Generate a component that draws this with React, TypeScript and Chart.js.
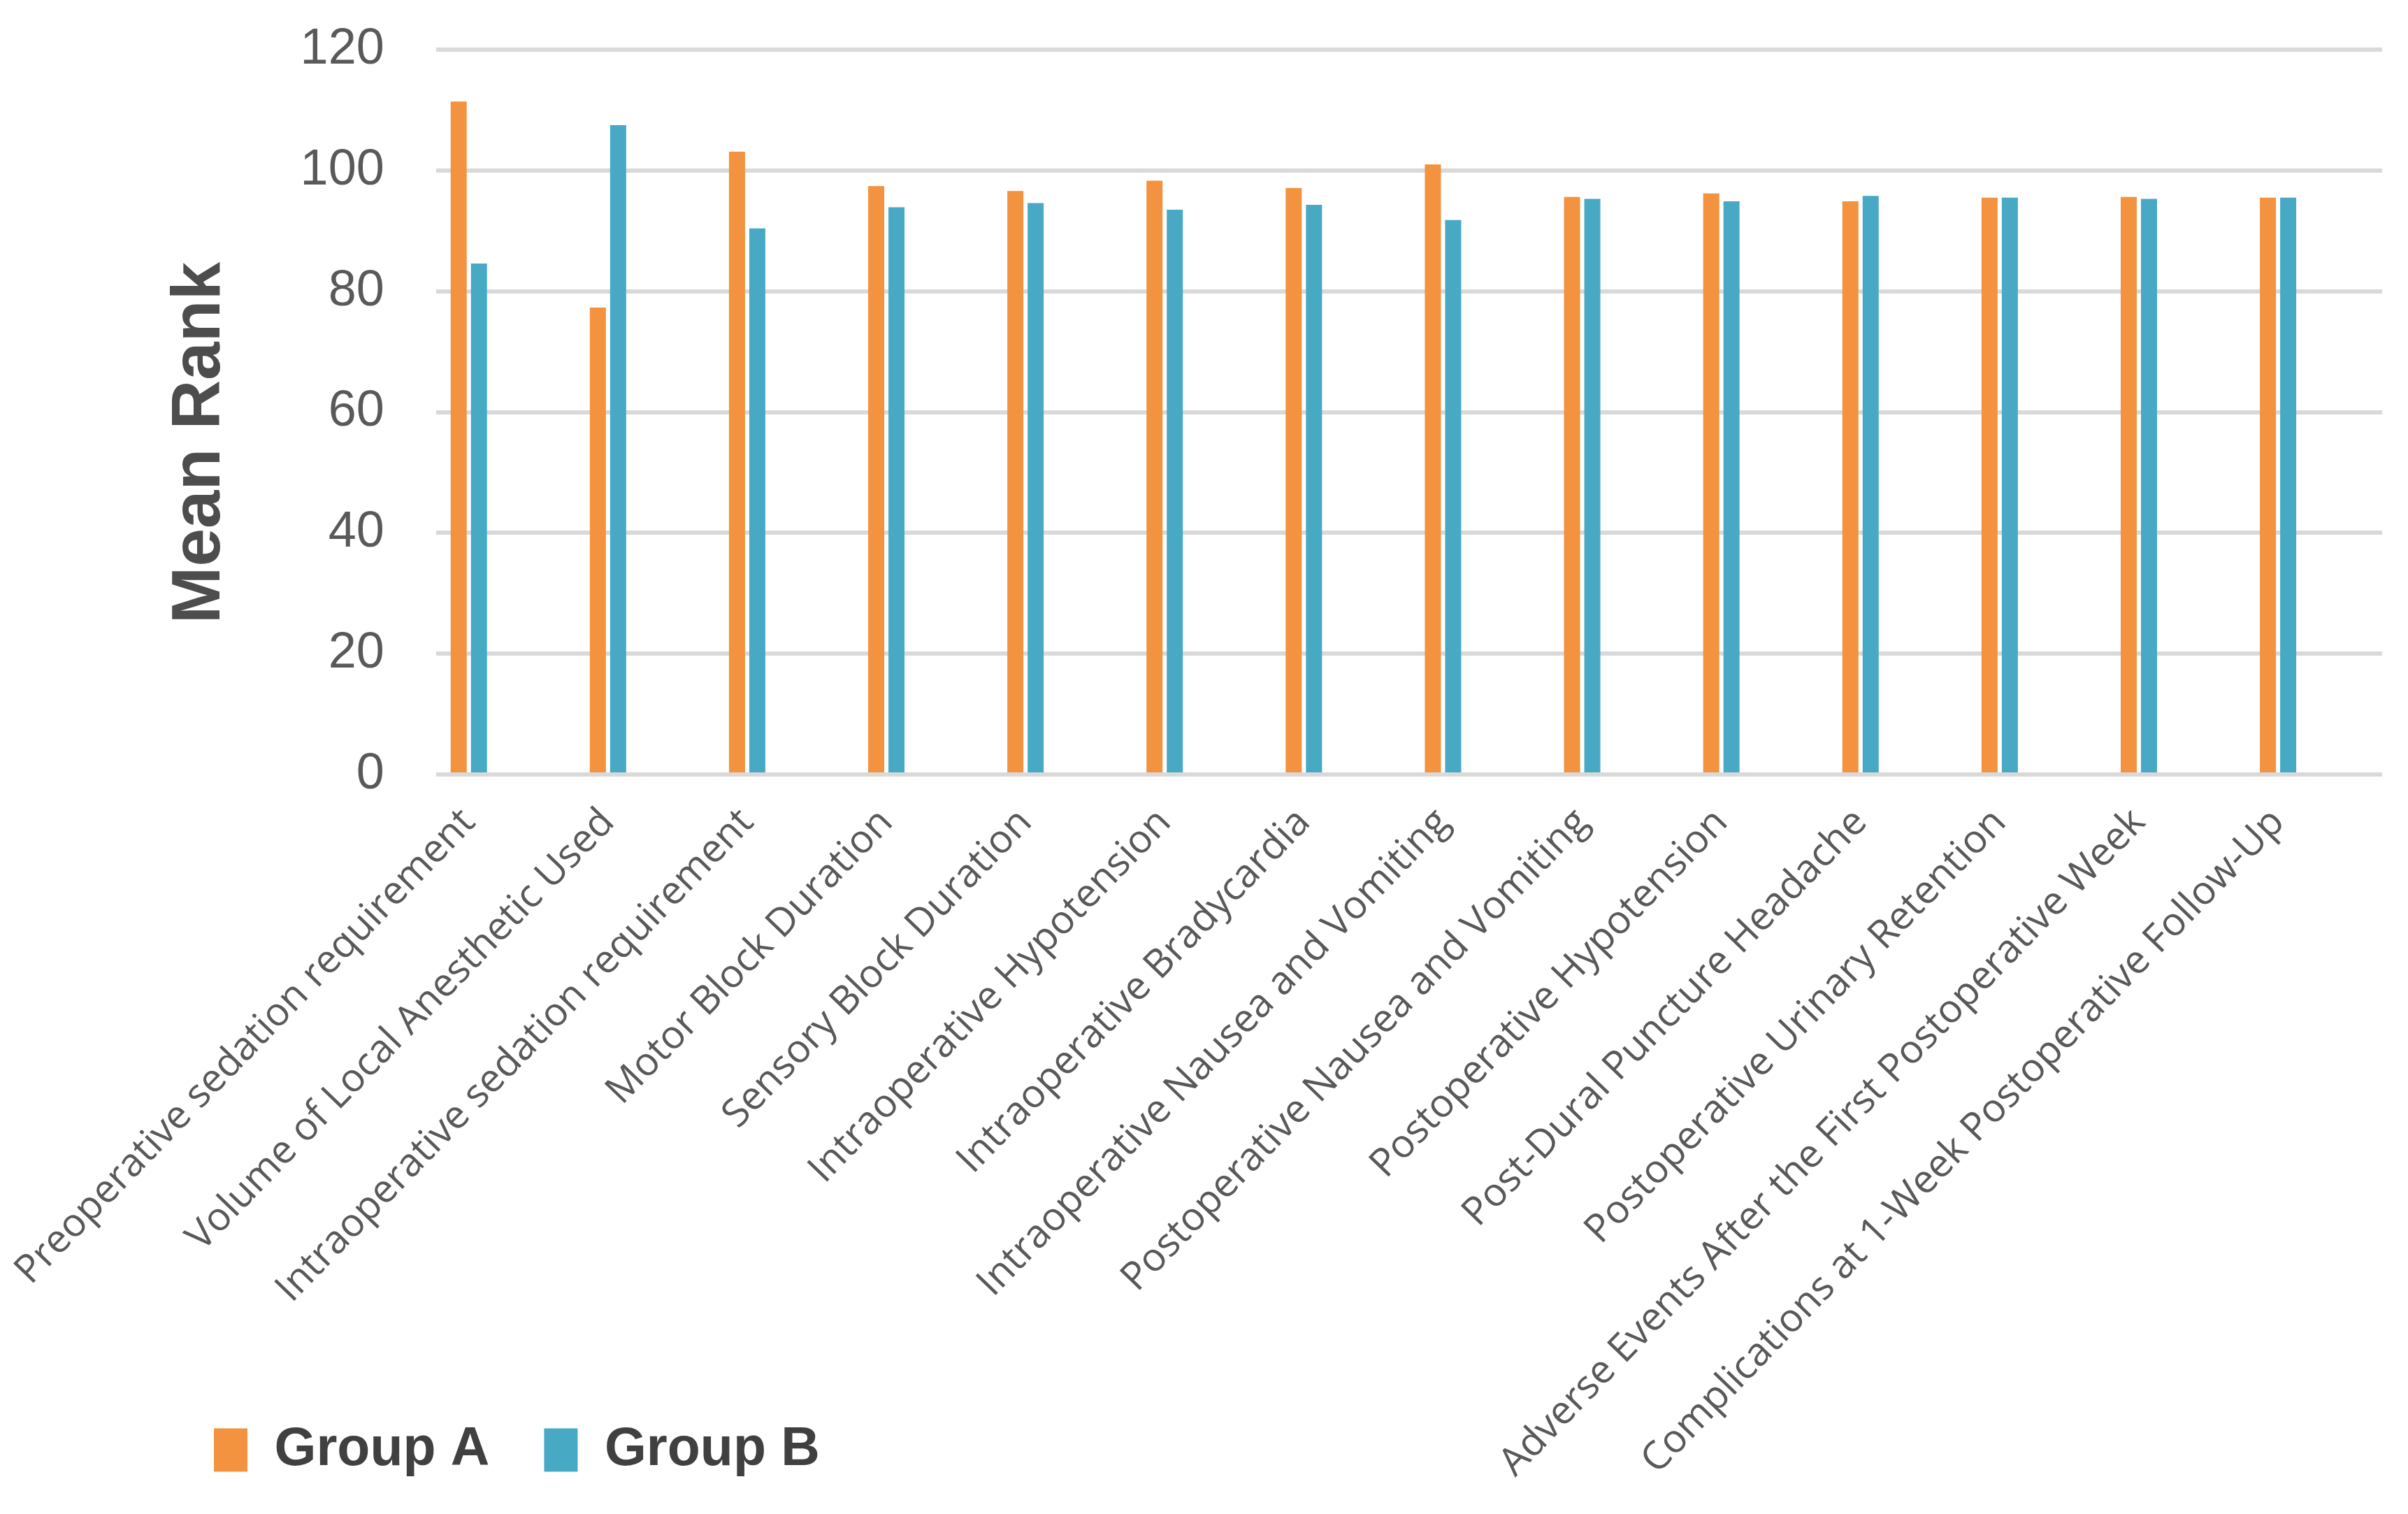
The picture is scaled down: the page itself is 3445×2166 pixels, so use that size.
import React, { useEffect, useRef } from "react";
import { Chart, registerables } from "chart.js";

Chart.register(...registerables);

const categories: string[] = [
  "Preoperative sedation requirement",
  "Volume of Local Anesthetic Used",
  "Intraoperative sedation requirement",
  "Motor Block Duration",
  "Sensory Block Duration",
  "Intraoperative Hypotension",
  "Intraoperative Bradycardia",
  "Intraoperative Nausea and Vomiting",
  "Postoperative Nausea and Vomiting",
  "Postoperative Hypotension",
  "Post-Dural Puncture Headache",
  "Postoperative Urinary Retention",
  "Adverse Events After the First Postoperative Week",
  "Complications at 1-Week Postoperative Follow-Up",
];

const groupA: number[] = [111.4, 77.3, 103.1, 97.4, 96.6, 98.3, 97.1, 101.0, 95.6, 96.2, 94.9, 95.5, 95.6, 95.5];
const groupB: number[] = [84.6, 107.5, 90.4, 93.9, 94.6, 93.5, 94.3, 91.8, 95.3, 94.9, 95.8, 95.5, 95.3, 95.5];

const seriesNames: string[] = ["Group A", "Group B"];
const seriesColors: string[] = ["#F3923F", "#48A9C5"];

const yMin = 0;
const yMax = 120;
const yStep = 20;

const layoutTweaks = {
  id: "layoutTweaks",
  afterLayout(chart: any) {
    const x = chart.scales.x;
    if (x) x.bottom = chart.height;
    const y = chart.scales.y;
    if (y) y.bottom = y.bottom + 88;
  },
};

export default function App() {
  const canvasRef = useRef<HTMLCanvasElement | null>(null);

  useEffect(() => {
    if (!canvasRef.current) return;
    const toPoints = (arr: number[]) => arr.map((v, i) => ({ x: i, y: v }));
    const chart = new Chart(canvasRef.current, {
      type: "bar",
      data: {
        datasets: [
          {
            label: seriesNames[0],
            data: toPoints(groupA) as any,
            backgroundColor: seriesColors[0],
            categoryPercentage: 0.2913,
            barPercentage: 0.793,
          },
          {
            label: seriesNames[1],
            data: toPoints(groupB) as any,
            backgroundColor: seriesColors[1],
            categoryPercentage: 0.2913,
            barPercentage: 0.793,
          },
        ],
      },
      plugins: [layoutTweaks],
      options: {
        animation: false,
        responsive: true,
        maintainAspectRatio: false,
        devicePixelRatio: 1,
        layout: { padding: { left: 228, top: 71, right: 37, bottom: 43 } },
        plugins: {
          tooltip: { enabled: false },
          legend: {
            position: "bottom",
            align: "start",
            labels: {
              boxWidth: 48,
              boxHeight: 62,
              padding: 78,
              color: "#404040",
              font: { family: "'Liberation Sans', Arial, sans-serif", size: 77, weight: "bold" },
            },
          },
        },
        scales: {
          x: {
            type: "linear",
            min: -0.236,
            max: 13.748,
            offset: false,
            grid: { display: false, drawTicks: false },
            border: { display: false },
            afterBuildTicks: (axis: any) => {
              axis.ticks = categories.map((_, i) => ({ value: i }));
            },
            afterFit: (axis: any) => {
              axis.height = 850;
              axis.paddingLeft = 0;
              axis.paddingRight = 0;
              axis.paddingTop = 0;
              axis.paddingBottom = 0;
            },
            ticks: {
              autoSkip: false,
              minRotation: 46,
              maxRotation: 46,
              padding: 36,
              color: "#595959",
              font: { family: "'Open Sans', sans-serif", size: 56 },
              callback: (value: any) => categories[Math.round(Number(value))] ?? "",
            },
          },
          y: {
            min: yMin,
            max: yMax,
            grid: { color: "#D9D9D9", lineWidth: 6, drawTicks: false },
            border: { display: false },
            afterFit: (axis: any) => {
              axis.paddingTop = 0;
              axis.paddingBottom = 0;
            },
            ticks: {
              stepSize: yStep,
              padding: 74,
              color: "#595959",
              font: { family: "'Liberation Sans', Arial, sans-serif", size: 72 },
            },
            title: {
              display: true,
              text: "Mean Rank",
              color: "#4D4D4D",
              padding: { top: 0, bottom: 10 },
              font: { family: "'Liberation Sans', Arial, sans-serif", size: 98, weight: "bold" },
            },
          },
        },
      },
    });
    return () => chart.destroy();
  }, []);

  return (
    <div style={{ position: "absolute", left: 0, top: 0, width: 3445, height: 2166, background: "#fff" }}>
      <canvas ref={canvasRef} />
    </div>
  );
}
